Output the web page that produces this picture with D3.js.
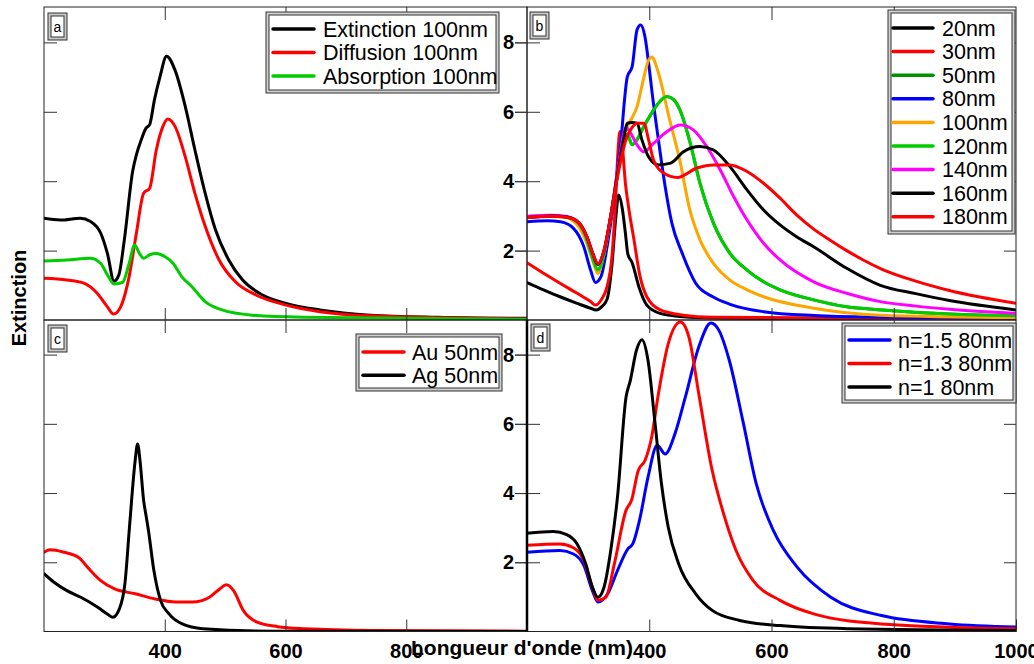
<!DOCTYPE html>
<html><head><meta charset="utf-8">
<script src="https://cdn.jsdelivr.net/npm/d3@7"></script>
<style>body{margin:0;background:#fff}svg{display:block}</style>
</head><body><svg id="chart" width="1034" height="664"></svg>
<script>
// ---------- DATA (wavelength nm, extinction) ----------
const xTicks = [400, 600, 800];
const xTicksD = [400, 600, 800, 1000];
const yTicks = [2, 4, 6, 8];

// panel a
const aNames = ["Extinction 100nm", "Diffusion 100nm", "Absorption 100nm"];
const aColors = ["#000000", "#ff0000", "#00cc00"];
const aExtinction = [[200,2.93],[227,2.88],[260,2.93],[277,2.84],[294,2.5],[305,1.92],[316,1.12],[324,1.3],[333,2.3],[347,4.3],[353,4.76],[361,5.19],[369,5.53],[375,5.63],[383,6.35],[392,7.0],[403,7.6],[417,7.2],[434,6.15],[450,4.9],[467,3.65],[484,2.6],[506,1.73],[529,1.15],[562,0.72],[601,0.48],[657,0.29],[741,0.14],[853,0.08],[1000,0.05]];
const aDiffusion = [[200,1.2],[238,1.15],[266,1.06],[288,0.77],[305,0.38],[315,0.17],[327,0.38],[341,1.25],[353,2.5],[365,3.65],[375,3.8],[386,4.9],[397,5.58],[405,5.79],[417,5.58],[434,4.7],[450,3.65],[467,2.7],[490,1.73],[517,1.1],[551,0.72],[601,0.43],[657,0.24],[741,0.12],[1000,0.03]];
const aAbsorption = [[200,1.7],[238,1.73],[277,1.78],[294,1.63],[305,1.3],[316,1.04],[330,1.08],[341,1.63],[350,2.16],[358,1.92],[365,1.78],[375,1.88],[386,1.92],[400,1.83],[414,1.63],[428,1.25],[445,0.96],[467,0.53],[495,0.29],[545,0.14],[629,0.08],[1000,0.02]];

// panel b
const bNames = ["20nm","30nm","50nm","80nm","100nm","120nm","140nm","160nm","180nm"];
const bColors = ["#000000","#ff0000","#009000","#0000ff","#ffa500","#00cc00","#ff00ff","#000000","#ff0000"];
const b20 = [[200,1.08],[227,0.87],[254,0.67],[282,0.48],[304,0.34],[313,0.29],[322,0.38],[331,0.6],[339,1.6],[345,2.9],[350,3.6],[356,3.2],[361,2.5],[365,1.9],[372,1.65],[383,0.96],[396,0.43],[418,0.19],[450,0.1],[520,0.05],[1000,0.02]];
const b30 = [[200,1.65],[227,1.35],[254,1.06],[282,0.77],[304,0.53],[312,0.43],[322,0.6],[331,0.96],[339,1.83],[345,3.46],[349,4.9],[352,5.43],[356,5.0],[361,3.94],[366,3.27],[375,2.31],[385,1.25],[396,0.67],[418,0.29],[456,0.14],[504,0.08],[1000,0.02]];
const b50 = [[200,2.98],[240,3.0],[260,2.98],[280,2.85],[295,2.45],[305,1.9],[316,1.45],[326,1.9],[338,3.1],[350,4.4],[358,5.1],[364,5.35],[372,5.05],[380,5.2],[391,5.57],[407,6.05],[415,6.25],[429,6.44],[440,6.35],[450,6.06],[467,5.1],[483,3.94],[505,2.79],[532,1.92],[560,1.44],[587,1.1],[614,0.87],[669,0.58],[723,0.38],[781,0.29],[891,0.17],[1000,0.12]];
const b80 = [[200,2.83],[233,2.86],[255,2.83],[276,2.64],[293,2.11],[304,1.44],[312,1.08],[321,1.25],[331,2.11],[342,3.46],[350,4.61],[355,5.4],[358,6.05],[364,7.0],[372,7.3],[380,8.36],[386,8.5],[393,8.16],[399,7.4],[405,6.5],[415,5.19],[426,3.85],[437,2.79],[454,1.92],[476,1.06],[504,0.67],[531,0.46],[587,0.24],[670,0.13],[781,0.08],[1000,0.05]];
const b100 = [[200,2.96],[240,2.98],[262,2.96],[282,2.74],[298,2.21],[309,1.63],[316,1.34],[325,1.83],[339,3.17],[350,4.42],[358,5.28],[364,5.57],[371,5.8],[380,6.15],[390,6.9],[398,7.45],[404,7.58],[415,7.12],[432,5.87],[450,4.6],[466,3.2],[483,2.31],[505,1.63],[532,1.15],[560,0.87],[587,0.67],[669,0.34],[778,0.14],[1000,0.07]];
const b120 = [[200,2.98],[240,3.0],[260,2.98],[280,2.85],[295,2.45],[305,1.9],[316,1.45],[326,1.9],[338,3.1],[350,4.4],[358,5.1],[364,5.35],[372,5.05],[380,5.2],[391,5.57],[407,6.05],[415,6.25],[429,6.44],[440,6.35],[450,6.06],[467,5.1],[483,3.94],[505,2.79],[532,1.92],[560,1.44],[587,1.1],[614,0.87],[669,0.58],[723,0.38],[781,0.29],[891,0.17],[1000,0.12]];
const b140 = [[200,2.99],[240,3.02],[265,2.98],[285,2.8],[298,2.4],[308,1.9],[316,1.6],[326,2.0],[338,3.1],[350,4.5],[362,5.55],[369,5.4],[380,5.05],[391,4.85],[407,5.09],[429,5.43],[451,5.62],[472,5.48],[494,5.0],[516,4.33],[538,3.56],[560,2.88],[587,2.21],[614,1.73],[669,1.1],[723,0.77],[778,0.53],[836,0.4],[891,0.31],[1000,0.19]];
const b160 = [[200,2.95],[240,3.0],[265,2.97],[285,2.8],[298,2.4],[308,1.9],[316,1.6],[326,2.0],[338,3.1],[350,4.4],[358,5.2],[364,5.67],[372,5.69],[380,5.67],[388,5.19],[399,4.7],[415,4.47],[435,4.52],[456,4.85],[483,5.0],[505,4.9],[532,4.42],[560,3.75],[587,3.17],[614,2.74],[641,2.4],[669,2.11],[723,1.49],[778,1.0],[836,0.76],[891,0.56],[1000,0.29]];
const b180 = [[200,2.95],[240,2.99],[265,2.96],[285,2.8],[298,2.4],[308,1.9],[316,1.62],[326,2.0],[338,3.1],[350,4.3],[362,5.2],[372,5.55],[380,5.67],[391,5.67],[399,5.19],[407,4.61],[424,4.23],[446,4.11],[478,4.38],[505,4.47],[532,4.47],[560,4.28],[587,3.94],[614,3.51],[641,3.03],[669,2.62],[696,2.3],[723,2.0],[750,1.73],[781,1.46],[836,1.12],[891,0.85],[1000,0.48]];

// panel c
const cNames = ["Au 50nm", "Ag 50nm"];
const cColors = ["#ff0000", "#000000"];
const cAu = [[200,2.29],[210,2.36],[233,2.29],[258,2.13],[272,1.86],[294,1.47],[317,1.23],[351,1.09],[384,0.94],[418,0.85],[446,0.85],[474,0.99],[491,1.23],[502,1.35],[514,1.18],[530,0.61],[553,0.27],[587,0.14],[632,0.08],[744,0.03],[1000,0.01]];
const cAg = [[200,1.67],[216,1.43],[238,1.18],[261,0.99],[289,0.7],[306,0.49],[314,0.41],[325,0.66],[334,1.38],[342,3.11],[351,4.94],[355,5.42],[359,4.94],[365,3.79],[369,3.35],[373,2.92],[382,1.76],[393,0.9],[407,0.51],[429,0.22],[463,0.08],[575,0.01],[1000,0.0]];

// panel d
const dNames = ["n=1.5 80nm", "n=1.3 80nm", "n=1 80nm"];
const dColors = ["#0000ff", "#ff0000", "#000000"];
const dN15 = [[200,2.29],[254,2.34],[276,2.24],[293,1.91],[307,1.18],[316,0.85],[332,1.09],[348,1.76],[365,2.39],[373,2.53],[384,3.21],[398,4.46],[413,5.38],[426,5.13],[442,5.71],[459,6.77],[481,8.22],[501,8.91],[514,8.7],[531,7.83],[553,6.1],[575,4.27],[603,2.92],[642,1.86],[697,0.99],[780,0.46],[891,0.22],[1000,0.13]];
const dN13 = [[200,2.49],[254,2.53],[276,2.42],[293,2.05],[307,1.28],[316,0.9],[329,0.99],[343,1.96],[362,3.5],[371,3.79],[382,4.65],[393,4.94],[404,5.62],[415,6.87],[431,8.31],[451,8.94],[465,8.5],[481,6.87],[503,4.65],[520,3.5],[542,2.34],[570,1.47],[614,0.9],[669,0.51],[780,0.22],[1000,0.08]];
const dN1 = [[200,2.84],[243,2.89],[265,2.8],[282,2.53],[296,1.96],[307,1.28],[316,0.99],[326,1.28],[337,2.34],[348,3.88],[362,6.77],[369,7.25],[379,8.12],[388,8.43],[398,7.83],[409,6.1],[420,4.27],[431,3.02],[448,1.96],[476,1.09],[503,0.61],[548,0.32],[614,0.17],[725,0.08],[1000,0.03]];

// ---------- DRAWING ----------
const FONT = "'Liberation Sans', Arial, Helvetica, sans-serif";
const svg = d3.select("#chart");
svg.append("rect").attr("width", 1034).attr("height", 664).attr("fill", "#fff");

const panels = [
  {id: "a", x0: 44, x1: 527, y0: 7, y1: 320, ymax: 9.02, series: [aExtinction, aDiffusion, aAbsorption], names: aNames, colors: aColors,
   legend: {x: 266, y: 12, w: 233, h: 81, row0: 29, step: 23.5, lx0: 273, lx1: 314, tx: 323}, labelBox: [48, 13],
   leftLabels: false, bottomLabels: false},
  {id: "b", x0: 527, x1: 1016, y0: 7, y1: 320, ymax: 9.02, series: [b20, b30, b50, b80, b100, b120, b140, b160, b180], names: bNames, colors: bColors,
   legend: {x: 888, y: 10, w: 127, h: 224, row0: 28, step: 23.6, lx0: 893, lx1: 933, tx: 942}, labelBox: [530, 12],
   leftLabels: true, bottomLabels: false},
  {id: "c", x0: 44, x1: 527, y0: 320, y1: 631.5, ymax: 9.0, series: [cAu, cAg], names: cNames, colors: cColors,
   legend: {x: 356, y: 334, w: 146, h: 57, row0: 352, step: 23.3, lx0: 363, lx1: 404, tx: 412}, labelBox: [48, 325],
   leftLabels: false, bottomLabels: true, bTicks: xTicks},
  {id: "d", x0: 527, x1: 1016, y0: 320, y1: 631.5, ymax: 9.0, series: [dN15, dN13, dN1], names: dNames, colors: dColors,
   legend: {x: 842, y: 323, w: 174, h: 80, row0: 340, step: 23.5, lx0: 849, lx1: 890, tx: 898}, labelBox: [531, 324],
   leftLabels: true, bottomLabels: true, bTicks: xTicksD},
];

const defs = svg.append("defs");

panels.forEach(p => {
  const x = d3.scaleLinear().domain([200, 1000]).range([p.x0, p.x1]);
  const y = d3.scaleLinear().domain([0, p.ymax]).range([p.y1, p.y0]);
  const g = svg.append("g").attr("class", "panel-" + p.id);

  defs.append("clipPath").attr("id", "clip-" + p.id)
    .append("rect").attr("x", p.x0).attr("y", p.y0).attr("width", p.x1 - p.x0).attr("height", p.y1 - p.y0);

  const line = d3.line().x(d => x(d[0])).y(d => y(d[1])).curve(d3.curveMonotoneX);
  const curves = g.append("g").attr("clip-path", `url(#clip-${p.id})`);
  p.series.forEach((s, i) => {
    curves.append("path").datum(s).attr("d", line)
      .attr("fill", "none").attr("stroke", p.colors[i]).attr("stroke-width", 3)
      .attr("stroke-linejoin", "round").attr("stroke-linecap", "round");
  });

  const styleAxis = sel => {
    sel.select(".domain").remove();
    sel.selectAll(".tick line").attr("stroke", "#333").attr("stroke-width", 1);
    sel.selectAll("text").attr("font-family", FONT).attr("font-size", 20).attr("font-weight", "bold").attr("fill", "#000");
  };

  // left inner ticks
  g.append("g").attr("transform", `translate(${p.x0},0)`)
    .call(d3.axisLeft(y).tickValues(yTicks).tickSize(-13).tickFormat(""))
    .call(styleAxis);
  if (p.leftLabels) {
    g.append("g").attr("transform", `translate(${p.x0},0)`)
      .call(d3.axisLeft(y).tickValues(yTicks).tickSize(12).tickPadding(1).tickFormat(d3.format("d")))
      .call(styleAxis);
  }
  // right inner ticks
  g.append("g").attr("transform", `translate(${p.x1},0)`)
    .call(d3.axisRight(y).tickValues(yTicks).tickSize(-12).tickFormat(""))
    .call(styleAxis);
  // top inner ticks
  g.append("g").attr("transform", `translate(0,${p.y0})`)
    .call(d3.axisTop(x).tickValues(xTicks).tickSize(-13).tickFormat(""))
    .call(styleAxis);
  // bottom inner ticks (+ labels)
  if (p.bottomLabels) {
    g.append("g").attr("transform", `translate(0,${p.y1})`)
      .call(d3.axisBottom(x).tickValues(p.bTicks).tickSize(-12).tickPadding(12).tickFormat(d3.format("d")))
      .call(styleAxis);
  } else {
    g.append("g").attr("transform", `translate(0,${p.y1})`)
      .call(d3.axisBottom(x).tickValues(xTicks).tickSize(-12).tickFormat(""))
      .call(styleAxis);
  }

  // frame
  g.append("rect").attr("x", p.x0).attr("y", p.y0).attr("width", p.x1 - p.x0).attr("height", p.y1 - p.y0)
    .attr("fill", "none").attr("stroke", "#222").attr("stroke-width", 1);
  if (p.id === "d") {
    g.append("line").attr("x1", p.x0).attr("x2", p.x0).attr("y1", p.y0).attr("y2", p.y1)
      .attr("stroke", "#000").attr("stroke-width", 2.5);
  }

  // panel label box
  const [bx, by] = p.labelBox;
  g.append("rect").attr("x", bx).attr("y", by).attr("width", 19).attr("height", 27)
    .attr("fill", "#c8c8c8").attr("stroke", "#333").attr("stroke-width", 1);
  g.append("rect").attr("x", bx + 3).attr("y", by + 3).attr("width", 13).attr("height", 21)
    .attr("fill", "#fff").attr("stroke", "#333").attr("stroke-width", 1);
  g.append("text").attr("x", bx + 9.5).attr("y", by + 14).attr("dy", "0.35em")
    .attr("text-anchor", "middle").attr("font-family", FONT).attr("font-size", 14).text(p.id);

  // legend
  const L = p.legend;
  const lg = g.append("g");
  lg.append("rect").attr("x", L.x).attr("y", L.y).attr("width", L.w).attr("height", L.h)
    .attr("fill", "#d0d0d0").attr("stroke", "#333").attr("stroke-width", 1);
  lg.append("rect").attr("x", L.x + 3).attr("y", L.y + 3).attr("width", L.w - 6).attr("height", L.h - 6)
    .attr("fill", "#fff").attr("stroke", "#333").attr("stroke-width", 1);
  p.names.forEach((n, i) => {
    const ry = L.row0 + i * L.step;
    lg.append("line").attr("x1", L.lx0).attr("x2", L.lx1).attr("y1", ry).attr("y2", ry)
      .attr("stroke", p.colors[i]).attr("stroke-width", 3.5).attr("stroke-linecap", "round");
    lg.append("text").attr("x", L.tx).attr("y", ry).attr("dy", "0.35em")
      .attr("font-family", FONT).attr("font-size", 21.5).attr("fill", "#000").text(n);
  });
});

// axis titles
svg.append("text").attr("transform", "translate(26,298) rotate(-90)")
  .attr("text-anchor", "middle").attr("font-family", FONT).attr("font-size", 20)
  .attr("font-weight", "bold").text("Extinction");
svg.append("text").attr("x", 522).attr("y", 655)
  .attr("text-anchor", "middle").attr("font-family", FONT).attr("font-size", 21)
  .attr("font-weight", "bold").text("Longueur d'onde (nm)");
</script></body></html>
